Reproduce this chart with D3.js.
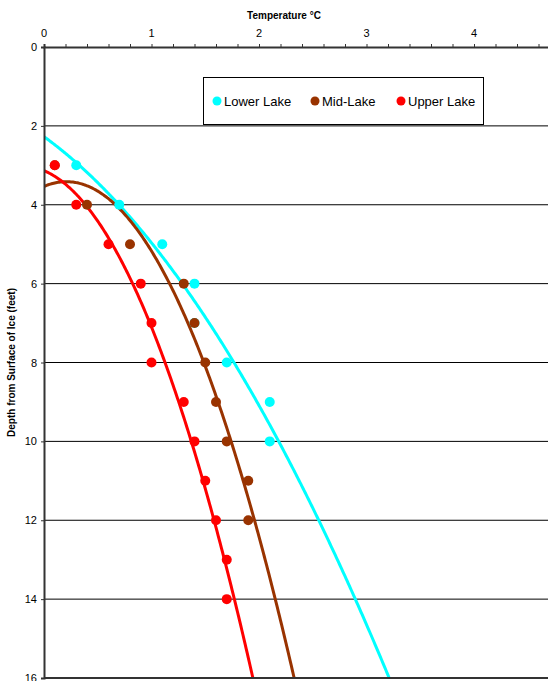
<!DOCTYPE html>
<html>
<head>
<meta charset="utf-8">
<script src="https://cdn.jsdelivr.net/npm/d3@7"></script>
<style>
  body { margin: 0; background: #fff; }
  svg { font-family: "Liberation Sans", Arial, sans-serif; display: block; }
</style>
</head>
<body>
<div id="chart"></div>
<script>
// depth (feet) at which each reading was taken
const lowerDepth = [3, 4, 5, 6, 7, 8, 9, 10];
const lowerTemp  = [0.3, 0.7, 1.1, 1.4, 1.4, 1.7, 2.1, 2.1];

// first mid-lake reading sits under the upper lake marker
const midDepth = [3, 4, 5, 6, 7, 8, 9, 10, 11, 12];
const midTemp  = [0.1, 0.4, 0.8, 1.3, 1.4, 1.5, 1.6, 1.7, 1.9, 1.9];

const upperDepth = [3, 4, 5, 6, 7, 8, 9, 10, 11, 12, 13, 14];
const upperTemp  = [0.1, 0.3, 0.6, 0.9, 1.0, 1.0, 1.3, 1.4, 1.5, 1.6, 1.7, 1.7];

const seriesNames = ["Lower Lake", "Mid-Lake", "Upper Lake"];
const seriesColors = ["#00ffff", "#993300", "#ff0000"];

const xTicks = [0, 1, 2, 3, 4];
const yTicks = [0, 2, 4, 6, 8, 10, 12, 14, 16];

const width = 548, height = 681;
const margin = { top: 47, left: 44, bottom: 3 };

const svg = d3.select("#chart").append("svg")
    .attr("width", width)
    .attr("height", height);

const x = d3.scaleLinear().domain([0, 4.7]).range([margin.left, margin.left + 4.7 * 107.5]);
const y = d3.scaleLinear().domain([0, 16]).range([margin.top, height - margin.bottom]);

// clip for plot area
svg.append("clipPath").attr("id", "plot")
  .append("rect")
    .attr("x", margin.left).attr("y", margin.top)
    .attr("width", width - margin.left).attr("height", y(16) - margin.top);

// horizontal gridlines
svg.append("g")
  .selectAll("line")
  .data(yTicks.filter(d => d > 0))
  .join("line")
    .attr("x1", margin.left).attr("x2", width)
    .attr("y1", d => y(d)).attr("y2", d => y(d))
    .attr("stroke", "#000").attr("stroke-width", 1);

// least squares quadratic: depth = a*t^2 + b*t + c (Excel polynomial trendline)
function quadFit(ts, ds) {
  let s = [0, 0, 0, 0, 0], r = [0, 0, 0];
  ts.forEach((t, i) => {
    for (let k = 0; k < 5; k++) s[k] += Math.pow(t, k);
    for (let k = 0; k < 3; k++) r[k] += ds[i] * Math.pow(t, k);
  });
  const m = [[s[0], s[1], s[2], r[0]], [s[1], s[2], s[3], r[1]], [s[2], s[3], s[4], r[2]]];
  for (let i = 0; i < 3; i++) {
    for (let j = i + 1; j < 3; j++) {
      const f = m[j][i] / m[i][i];
      for (let k = i; k < 4; k++) m[j][k] -= f * m[i][k];
    }
  }
  const c = [0, 0, 0];
  for (let i = 2; i >= 0; i--) {
    let v = m[i][3];
    for (let k = i + 1; k < 3; k++) v -= m[i][k] * c[k];
    c[i] = v / m[i][i];
  }
  return t => c[0] + c[1] * t + c[2] * t * t;
}

const series = [
  { temp: lowerTemp, depth: lowerDepth },
  { temp: midTemp, depth: midDepth },
  { temp: upperTemp, depth: upperDepth }
];

const plot = svg.append("g").attr("clip-path", "url(#plot)");

series.forEach((s, i) => {
  const f = quadFit(s.temp, s.depth);
  const ts = d3.range(0, 4.7, 0.01);
  plot.append("path")
    .datum(ts)
    .attr("fill", "none")
    .attr("stroke", seriesColors[i])
    .attr("stroke-width", 3)
    .attr("d", d3.line().x(t => x(t)).y(t => y(f(t))));
});

series.forEach((s, i) => {
  plot.append("g")
    .selectAll("circle")
    .data(s.temp.map((t, j) => [t, s.depth[j]]))
    .join("circle")
      .attr("cx", d => x(d[0]))
      .attr("cy", d => y(d[1]))
      .attr("r", 5)
      .attr("fill", seriesColors[i]);
});

// top x axis
const xAxis = svg.append("g")
    .attr("transform", `translate(0,${margin.top})`)
    .call(d3.axisTop(x).tickValues(d3.range(0, 4.8, 0.2)).tickSize(3).tickFormat(""));
xAxis.select(".domain").attr("stroke", "#333").attr("stroke-width", 2);
xAxis.selectAll(".tick line").attr("stroke", "#333");

svg.append("g")
  .selectAll("text")
  .data(xTicks)
  .join("text")
    .attr("x", d => x(d))
    .attr("y", 37)
    .attr("text-anchor", "middle")
    .attr("font-size", 11)
    .text(d => d);

// left y axis
const yAxis = svg.append("g")
    .attr("transform", `translate(${margin.left},0)`)
    .call(d3.axisLeft(y).tickValues(yTicks).tickSize(3).tickPadding(4));
yAxis.select(".domain").attr("stroke", "#333").attr("stroke-width", 2);
yAxis.selectAll(".tick line").attr("stroke", "#333");
yAxis.selectAll(".tick text").attr("font-size", 11).attr("fill", "#000")
    .attr("font-family", "Liberation Sans, Arial, sans-serif");

// bottom line
svg.append("line")
    .attr("x1", margin.left).attr("x2", width)
    .attr("y1", y(16)).attr("y2", y(16))
    .attr("stroke", "#333").attr("stroke-width", 2);

// titles
svg.append("text")
    .attr("x", 284).attr("y", 19)
    .attr("text-anchor", "middle")
    .attr("font-size", 10).attr("font-weight", "bold")
    .text("Temperature °C");

svg.append("text")
    .attr("transform", `translate(15,${y(8)}) rotate(-90)`)
    .attr("text-anchor", "middle")
    .attr("font-size", 10).attr("font-weight", "bold")
    .text("Depth from Surface of Ice (feet)");

// legend
const legend = svg.append("g");
legend.append("rect")
    .attr("x", 203.5).attr("y", 77.5)
    .attr("width", 280).attr("height", 47)
    .attr("fill", "#fff").attr("stroke", "#000");
const legendX = [217, 315, 401];
seriesNames.forEach((name, i) => {
  legend.append("circle")
      .attr("cx", legendX[i]).attr("cy", 101)
      .attr("r", 4.5).attr("fill", seriesColors[i]);
  legend.append("text")
      .attr("x", legendX[i] + 7).attr("y", 105.5)
      .attr("font-size", 13)
      .text(name);
});
</script>
</body>
</html>
